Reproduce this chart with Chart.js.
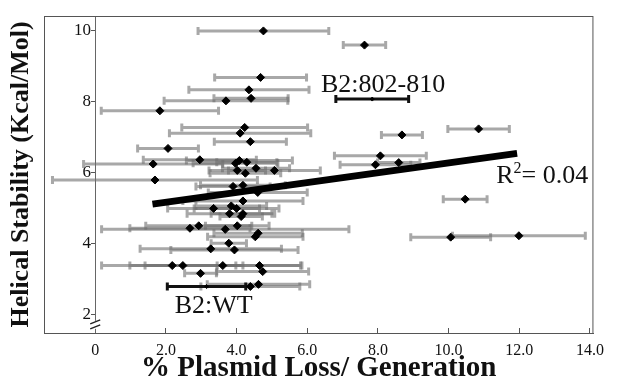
<!DOCTYPE html>
<html>
<head>
<meta charset="utf-8">
<script src="https://cdn.jsdelivr.net/npm/chart.js@4/dist/chart.umd.min.js"></script>
<style>
  html, body { margin: 0; padding: 0; background: #fff; }
  #wrap { width: 617px; height: 386px; }
</style>
</head>
<body>
<div id="wrap"><canvas id="c"></canvas></div>
<script>
// % plasmid loss per generation (x), helical stability (y) and x error (+/-)
const LOSS = [4.76, 7.62, 4.68, 4.35, 4.41, 3.70, 1.83, 4.23, 4.10, 4.39,
              2.06, 2.96, 1.64, 1.69, 4.08, 3.97, 4.29, 4.02, 4.25, 4.55,
              5.07, 3.90, 4.18, 4.60, 4.18, 3.35, 3.85, 4.00, 3.80, 4.18,
              4.13, 2.68, 2.93, 3.68, 4.02, 4.61, 4.53, 3.78, 3.27, 3.94,
              2.18, 2.48, 3.61, 4.65, 4.74, 2.98, 4.39, 4.62,
              10.85, 8.68, 8.07, 7.93, 8.59, 10.47, 10.06, 11.99];
const STABILITY = [10.0, 9.6, 8.69, 8.34, 8.10, 8.03, 7.75, 7.28, 7.12, 6.88,
                   6.69, 6.37, 6.25, 5.80, 6.35, 6.27, 6.30, 6.07, 5.99, 6.13,
                   6.07, 5.62, 5.65, 5.45, 5.21, 5.00, 5.07, 5.00, 4.85, 4.85,
                   4.77, 4.44, 4.51, 4.41, 4.51, 4.30, 4.20, 4.02, 3.86, 3.83,
                   3.39, 3.39, 3.39, 3.39, 3.22, 3.17, 2.80, 2.86,
                   7.24, 7.07, 6.48, 6.23, 6.29, 5.26, 4.19, 4.23];
const LOSS_ERR = [1.85, 0.6, 1.3, 1.7, 1.05, 1.75, 1.66, 1.78, 2.0, 1.02,
                  0.86, 1.6, 1.97, 2.9, 1.5, 1.2, 0.85, 0.8, 1.0, 0.95,
                  1.3, 1.05, 1.2, 1.4, 1.7, 1.3, 1.0, 1.2, 1.2, 0.9,
                  0.6, 1.7, 1.5, 3.5, 0.9, 1.25, 1.35, 0.5, 2.0, 1.8,
                  2.0, 1.5, 2.2, 1.2, 1.3, 0.45, 1.4, 1.45,
                  0.87, 0.58, 1.3, 1.0, 0.6, 0.62, 1.13, 1.88];

// labelled constructs
const REF_NAMES = ['B2:802-810', 'B2:WT'];
const REF_LOSS = [7.84, 3.15];
const REF_STABILITY = [8.08, 2.80];
const REF_ERR = [1.03, 1.11];
const REF_LABEL_AT = [[6.39, 8.28], [2.25, 2.06]];

// linear fit
const FIT_X = [1.62, 11.94];
const FIT_Y = [5.12, 6.55];
const R2_TEXT = ['R', '2', '= 0.04'];
const R2_AT = [11.35, 5.72];

const X_TICKS = [0, 2, 4, 6, 8, 10, 12, 14];
const Y_TICKS = [2, 4, 6, 8, 10];

const SERIF = '"Liberation Serif", "DejaVu Serif", serif';

const toPts = (xs, ys) => xs.map((x, i) => ({ x, y: ys[i] }));

// error bars, frame, axis break and text
const extras = {
    id: 'extras',
    beforeDatasetsDraw(chart) {
        const { ctx, scales: { x, y }, chartArea: a } = chart;
        ctx.save();
        ctx.strokeStyle = '#555';
        ctx.lineWidth = 1;
        ctx.strokeRect(a.left + .5, a.top + .5, a.right - a.left - 1, a.bottom - a.top);

        const bar = (cx, cy, e, color, w) => {
            const x1 = x.getPixelForValue(cx - e), x2 = x.getPixelForValue(cx + e);
            const py = y.getPixelForValue(cy);
            ctx.strokeStyle = color;
            ctx.lineWidth = w;
            ctx.beginPath();
            ctx.moveTo(x1, py); ctx.lineTo(x2, py);
            ctx.moveTo(x1, py - 4); ctx.lineTo(x1, py + 4);
            ctx.moveTo(x2, py - 4); ctx.lineTo(x2, py + 4);
            ctx.stroke();
        };
        LOSS.forEach((v, i) => bar(v, STABILITY[i], LOSS_ERR[i], 'rgba(110,110,110,0.6)', 3));
        REF_LOSS.forEach((v, i) => bar(v, REF_STABILITY[i], REF_ERR[i], '#111', 3));

        // axis break
        const ax = x.getPixelForValue(0), by = y.getPixelForValue(1.72);
        ctx.fillStyle = '#fff';
        ctx.fillRect(ax - 3, by - 4, 6, 8);
        ctx.strokeStyle = '#222';
        ctx.lineWidth = 1.5;
        ctx.beginPath();
        ctx.moveTo(ax - 5, by - 1); ctx.lineTo(ax + 5, by - 5);
        ctx.moveTo(ax - 5, by + 4); ctx.lineTo(ax + 5, by);
        ctx.stroke();
        ctx.restore();
    },
    afterDatasetsDraw(chart) {
        const { ctx, scales: { x, y } } = chart;
        ctx.save();
        ctx.fillStyle = '#111';
        ctx.textBaseline = 'alphabetic';
        ctx.font = '26px ' + SERIF;
        REF_NAMES.forEach((t, i) => {
            ctx.fillText(t, x.getPixelForValue(REF_LABEL_AT[i][0]), y.getPixelForValue(REF_LABEL_AT[i][1]));
        });
        let px = x.getPixelForValue(R2_AT[0]);
        const py = y.getPixelForValue(R2_AT[1]);
        ctx.fillText(R2_TEXT[0], px, py);
        px += ctx.measureText(R2_TEXT[0]).width;
        ctx.font = '16px ' + SERIF;
        ctx.fillText(R2_TEXT[1], px, py - 10);
        px += ctx.measureText(R2_TEXT[1]).width;
        ctx.font = '26px ' + SERIF;
        ctx.fillText(R2_TEXT[2], px, py);
        ctx.restore();
    }
};

new Chart(document.getElementById('c'), {
    type: 'scatter',
    data: {
        datasets: [
            {
                type: 'line',
                data: toPts(FIT_X, FIT_Y),
                borderColor: '#000',
                borderWidth: 7,
                pointRadius: 0,
                order: 2
            },
            {
                data: toPts(LOSS, STABILITY),
                backgroundColor: '#000',
                borderColor: '#000',
                pointStyle: 'rectRot',
                pointRadius: 4,
                order: 1
            },
            {
                data: toPts(REF_LOSS, REF_STABILITY),
                backgroundColor: '#000',
                borderColor: '#000',
                pointStyle: 'rectRot',
                pointRadius: 2,
                order: 1
            }
        ]
    },
    options: {
        responsive: true,
        maintainAspectRatio: false,
        animation: false,
        layout: { padding: { top: 16, right: 16, left: 0, bottom: 0 } },
        plugins: { legend: { display: false }, tooltip: { enabled: false } },
        scales: {
            x: {
                type: 'linear',
                position: 'bottom',
                min: -1.45,
                max: 14.1,
                afterBuildTicks: s => { s.ticks = X_TICKS.map(value => ({ value })); },
                afterFit: s => { s.height = 53; },
                grid: { drawOnChartArea: false, tickLength: -5, color: '#555' },
                border: { color: '#555' },
                ticks: {
                    padding: 13,
                    color: '#111',
                    font: { family: SERIF, size: 16 },
                    callback: v => v === 0 ? '0' : v.toFixed(1)
                },
                title: {
                    display: true,
                    text: '% Plasmid Loss/ Generation',
                    color: '#111',
                    font: { family: SERIF, size: 29, weight: 'bold' },
                    padding: { top: 0, bottom: 0 }
                }
            },
            y: {
                type: 'linear',
                position: { x: 0 },
                min: 1.49,
                max: 10.42,
                afterBuildTicks: s => { s.ticks = Y_TICKS.map(value => ({ value })); },
                grid: { drawOnChartArea: false, tickLength: 4, color: '#555' },
                border: { color: '#666' },
                ticks: {
                    color: '#111',
                    font: { family: SERIF, size: 17 },
                    callback: v => v + ' '
                }
            },
            yTitle: {
                type: 'linear',
                position: 'left',
                afterFit: s => { s.width = 44; },
                grid: { display: false, drawTicks: false },
                border: { display: false },
                ticks: { display: false },
                title: {
                    display: true,
                    text: 'Helical Stability (Kcal/Mol)',
                    color: '#111',
                    font: { family: SERIF, size: 26, weight: 'bold' },
                    padding: { top: 6, bottom: 0 }
                }
            }
        }
    },
    plugins: [extras]
});
</script>
</body>
</html>
